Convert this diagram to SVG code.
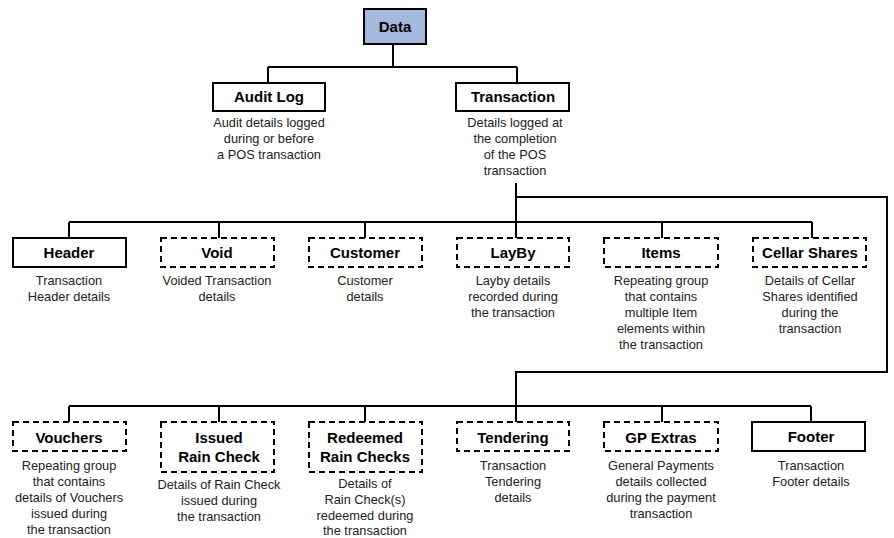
<svg xmlns="http://www.w3.org/2000/svg" width="894" height="538" viewBox="0 0 894 538">
  <style>
    .box { fill: #ffffff; stroke: #000000; stroke-width: 2; }
    .opt { fill: #ffffff; stroke: #000000; stroke-width: 2; stroke-dasharray: 6 4; }
    .root { fill: #a5b8de; stroke: #000000; stroke-width: 2; }
    .wire { fill: none; stroke: #000000; stroke-width: 2; }
    .title { font-family: "Liberation Sans", Arial, sans-serif; font-size: 15px; font-weight: bold; text-anchor: middle; fill: #000000; }
    .desc { font-family: "Liberation Sans", Arial, sans-serif; font-size: 12.8px; text-anchor: middle; fill: #222222; }
  </style>
  <rect width="894" height="538" fill="#ffffff"/>

  <g id="connectors">
    <!-- Data to its two children -->
    <path class="wire" d="M393 44 V67 M268 67 H517 M268 67 V83 M517 67 V83"/>
    <!-- Transaction trunk down to first row -->
    <path class="wire" d="M516 183 V238"/>
    <path class="wire" d="M69 222 H812 M69 222 V238 M219 222 V238 M365 222 V238 M662 222 V238 M812 222 V238"/>
    <!-- loop round to the second row -->
    <path class="wire" d="M516 197 H887 V372 H516 V422"/>
    <path class="wire" d="M69 406 H811 M69 406 V422 M219 406 V422 M365 406 V422 M662 406 V422 M811 406 V422"/>
  </g>

  <g id="data">
    <rect class="root" x="364" y="9" width="62" height="35"/>
    <text class="title" x="395" y="32">Data</text>
  </g>

  <g id="audit-log">
    <rect class="box" x="213" y="83" width="112" height="28"/>
    <text class="title" x="269" y="102">Audit Log</text>
    <text class="desc" x="269" y="127">Audit details logged</text>
    <text class="desc" x="269" y="143">during or before</text>
    <text class="desc" x="269" y="159">a POS transaction</text>
  </g>

  <g id="transaction">
    <rect class="box" x="456" y="83" width="113" height="28"/>
    <text class="title" x="513" y="102">Transaction</text>
    <text class="desc" x="515" y="127">Details logged at</text>
    <text class="desc" x="515" y="143">the completion</text>
    <text class="desc" x="515" y="159">of the POS</text>
    <text class="desc" x="515" y="175">transaction</text>
  </g>

  <!-- first row -->
  <g id="header">
    <rect class="box" x="13" y="238" width="113" height="29"/>
    <text class="title" x="69" y="258">Header</text>
    <text class="desc" x="69" y="285">Transaction</text>
    <text class="desc" x="69" y="301">Header details</text>
  </g>

  <g id="void">
    <rect class="opt" x="161" y="238" width="113" height="29"/>
    <text class="title" x="217" y="258">Void</text>
    <text class="desc" x="217" y="285">Voided Transaction</text>
    <text class="desc" x="217" y="301">details</text>
  </g>

  <g id="customer">
    <rect class="opt" x="309" y="238" width="113" height="29"/>
    <text class="title" x="365" y="258">Customer</text>
    <text class="desc" x="365" y="285">Customer</text>
    <text class="desc" x="365" y="301">details</text>
  </g>

  <g id="layby">
    <rect class="opt" x="457" y="238" width="112" height="29"/>
    <text class="title" x="513" y="258">LayBy</text>
    <text class="desc" x="513" y="285">Layby details</text>
    <text class="desc" x="513" y="301">recorded during</text>
    <text class="desc" x="513" y="317">the transaction</text>
  </g>

  <g id="items">
    <rect class="opt" x="604" y="238" width="114" height="29"/>
    <text class="title" x="661" y="258">Items</text>
    <text class="desc" x="661" y="285">Repeating group</text>
    <text class="desc" x="661" y="301">that contains</text>
    <text class="desc" x="661" y="317">multiple Item</text>
    <text class="desc" x="661" y="333">elements within</text>
    <text class="desc" x="661" y="349">the transaction</text>
  </g>

  <g id="cellar-shares">
    <rect class="opt" x="753" y="238" width="113" height="29"/>
    <text class="title" x="810" y="258">Cellar Shares</text>
    <text class="desc" x="810" y="285">Details of Cellar</text>
    <text class="desc" x="810" y="301">Shares identified</text>
    <text class="desc" x="810" y="317">during the</text>
    <text class="desc" x="810" y="333">transaction</text>
  </g>

  <!-- second row -->
  <g id="vouchers">
    <rect class="opt" x="13" y="422" width="113" height="29"/>
    <text class="title" x="69" y="443">Vouchers</text>
    <text class="desc" x="69" y="470">Repeating group</text>
    <text class="desc" x="69" y="486">that contains</text>
    <text class="desc" x="69" y="502">details of Vouchers</text>
    <text class="desc" x="69" y="518">issued during</text>
    <text class="desc" x="69" y="534">the transaction</text>
  </g>

  <g id="issued-rain-check">
    <rect class="opt" x="161" y="422" width="113" height="50"/>
    <text class="title" x="219" y="443">Issued</text>
    <text class="title" x="219" y="462">Rain Check</text>
    <text class="desc" x="219" y="489">Details of Rain Check</text>
    <text class="desc" x="219" y="505">issued during</text>
    <text class="desc" x="219" y="521">the transaction</text>
  </g>

  <g id="redeemed-rain-checks">
    <rect class="opt" x="309" y="422" width="113" height="50"/>
    <text class="title" x="365" y="443">Redeemed</text>
    <text class="title" x="365" y="462">Rain Checks</text>
    <text class="desc" x="365" y="488">Details of</text>
    <text class="desc" x="365" y="504">Rain Check(s)</text>
    <text class="desc" x="365" y="520">redeemed during</text>
    <text class="desc" x="365" y="535">the transaction</text>
  </g>

  <g id="tendering">
    <rect class="opt" x="457" y="422" width="112" height="29"/>
    <text class="title" x="513" y="443">Tendering</text>
    <text class="desc" x="513" y="470">Transaction</text>
    <text class="desc" x="513" y="486">Tendering</text>
    <text class="desc" x="513" y="502">details</text>
  </g>

  <g id="gp-extras">
    <rect class="opt" x="604" y="422" width="114" height="29"/>
    <text class="title" x="661" y="443">GP Extras</text>
    <text class="desc" x="661" y="470">General Payments</text>
    <text class="desc" x="661" y="486">details collected</text>
    <text class="desc" x="661" y="502">during the payment</text>
    <text class="desc" x="661" y="518">transaction</text>
  </g>

  <g id="footer">
    <rect class="box" x="752" y="422" width="113" height="29"/>
    <text class="title" x="811" y="442">Footer</text>
    <text class="desc" x="811" y="470">Transaction</text>
    <text class="desc" x="811" y="486">Footer details</text>
  </g>
</svg>
